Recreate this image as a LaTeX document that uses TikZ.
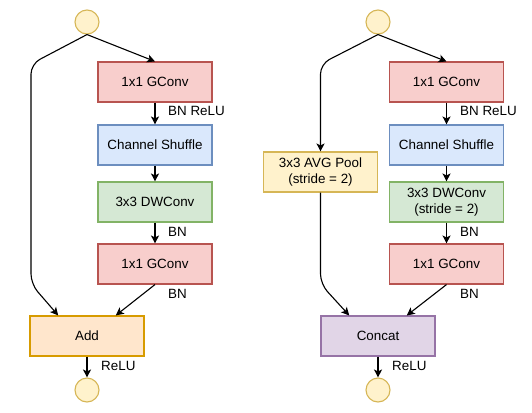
\documentclass[tikz,border=0pt]{standalone}
\usepackage{fontspec}
\setmainfont{Liberation Sans}
\usepackage{xcolor}
\usetikzlibrary{arrows.meta,calc}
\definecolor{redfill}{HTML}{F8CECC}
\definecolor{redline}{HTML}{B85450}
\definecolor{bluefill}{HTML}{DAE8FC}
\definecolor{blueline}{HTML}{6C8EBF}
\definecolor{greenfill}{HTML}{D5E8D4}
\definecolor{greenline}{HTML}{82B366}
\definecolor{orangefill}{HTML}{FFE6CC}
\definecolor{orangeline}{HTML}{D79B00}
\definecolor{yellowfill}{HTML}{FFF2CC}
\definecolor{yellowline}{HTML}{D6B656}
\definecolor{purplefill}{HTML}{E1D5E7}
\definecolor{purpleline}{HTML}{9673A6}
\tikzstyle{block}=[draw, line width=1.1pt, minimum width=114pt, minimum height=40pt, inner sep=0pt, align=center, font=\fontsize{13.4}{16}\selectfont]
\tikzstyle{gconv}=[block, fill=redfill, draw=redline]
\tikzstyle{shuffle}=[block, fill=bluefill, draw=blueline]
\tikzstyle{dwconv}=[block, fill=greenfill, draw=greenline]
\tikzstyle{addblock}=[block, fill=orangefill, draw=orangeline]
\tikzstyle{poolblock}=[block, fill=yellowfill, draw=yellowline]
\tikzstyle{catblock}=[block, fill=purplefill, draw=purpleline]
\tikzstyle{port}=[circle, draw=yellowline, fill=yellowfill, line width=1.1pt, minimum size=24pt, inner sep=0pt]
\tikzstyle{flow}=[line width=1.1pt, rounded corners=10pt, -{Stealth[length=8pt,width=8pt,inset=2pt]}]
\tikzstyle{lbl}=[anchor=west, inner sep=0pt, font=\fontsize{13.4}{16}\selectfont]

\begin{document}
\begin{tikzpicture}[x=1pt,y=-1pt]
		\useasboundingbox (0,0) rectangle (532,412);
		% left unit
		\node[port] (inL) at (87,22) {};
		\node[gconv] (gaL) at (155,82) {1x1 GConv};
		\node[shuffle] (shL) at (155,145) {Channel Shuffle};
		\node[dwconv] (dwL) at (155,202) {3x3 DWConv};
		\node[gconv] (gbL) at (155,264) {1x1 GConv};
		\node[addblock] (addL) at (87,336) {Add};
		\node[port] (outL) at (87,390) {};
		\draw[flow] (inL.south) -- (gaL.north);
		\draw[flow] (gaL) -- (shL);
		\draw[flow] (shL) -- (dwL);
		\draw[flow] (dwL) -- (gbL);
		\draw[flow] (gbL.south) -- ($(addL.north west)!0.75!(addL.north east)$);
		\draw[flow] (inL.south) -- (31,64) -- (31,284) -- ($(addL.north west)!0.25!(addL.north east)$);
		\draw[flow] (addL) -- (outL);
		\node[lbl] (l1L) at (168,111) {BN ReLU};
		\node[lbl] (l2L) at (168,232) {BN};
		\node[lbl] (l3L) at (168,294) {BN};
		\node[lbl] (l4L) at (101,366) {ReLU};
		% right unit
		\node[port] (inR) at (378,22) {};
		\node[gconv] (gaR) at (446.5,82) {1x1 GConv};
		\node[shuffle] (shR) at (446.5,145) {Channel Shuffle};
		\node[dwconv] (dwR) at (446.5,202) {3x3 DWConv\\(stride = 2)};
		\node[gconv] (gbR) at (446.5,264) {1x1 GConv};
		\node[poolblock] (poolR) at (320.5,172) {3x3 AVG Pool\\(stride = 2)};
		\node[catblock] (catR) at (378,336) {Concat};
		\node[port] (outR) at (378,390) {};
		\draw[flow] (inR.south) -- (gaR.north);
		\draw[flow] (gaR) -- (shR);
		\draw[flow] (shR) -- (dwR);
		\draw[flow] (dwR) -- (gbR);
		\draw[flow] (gbR.south) -- ($(catR.north west)!0.75!(catR.north east)$);
		\draw[flow] (inR.south) -- (320.5,64) -- (poolR.north);
		\draw[flow] (poolR.south) -- (320.5,284) -- ($(catR.north west)!0.25!(catR.north east)$);
		\draw[flow] (catR) -- (outR);
		\node[lbl] (l1R) at (460,111) {BN ReLU};
		\node[lbl] (l2R) at (460,232) {BN};
		\node[lbl] (l3R) at (460,294) {BN};
		\node[lbl] (l4R) at (392,366) {ReLU};
	\end{tikzpicture}
\end{document}
